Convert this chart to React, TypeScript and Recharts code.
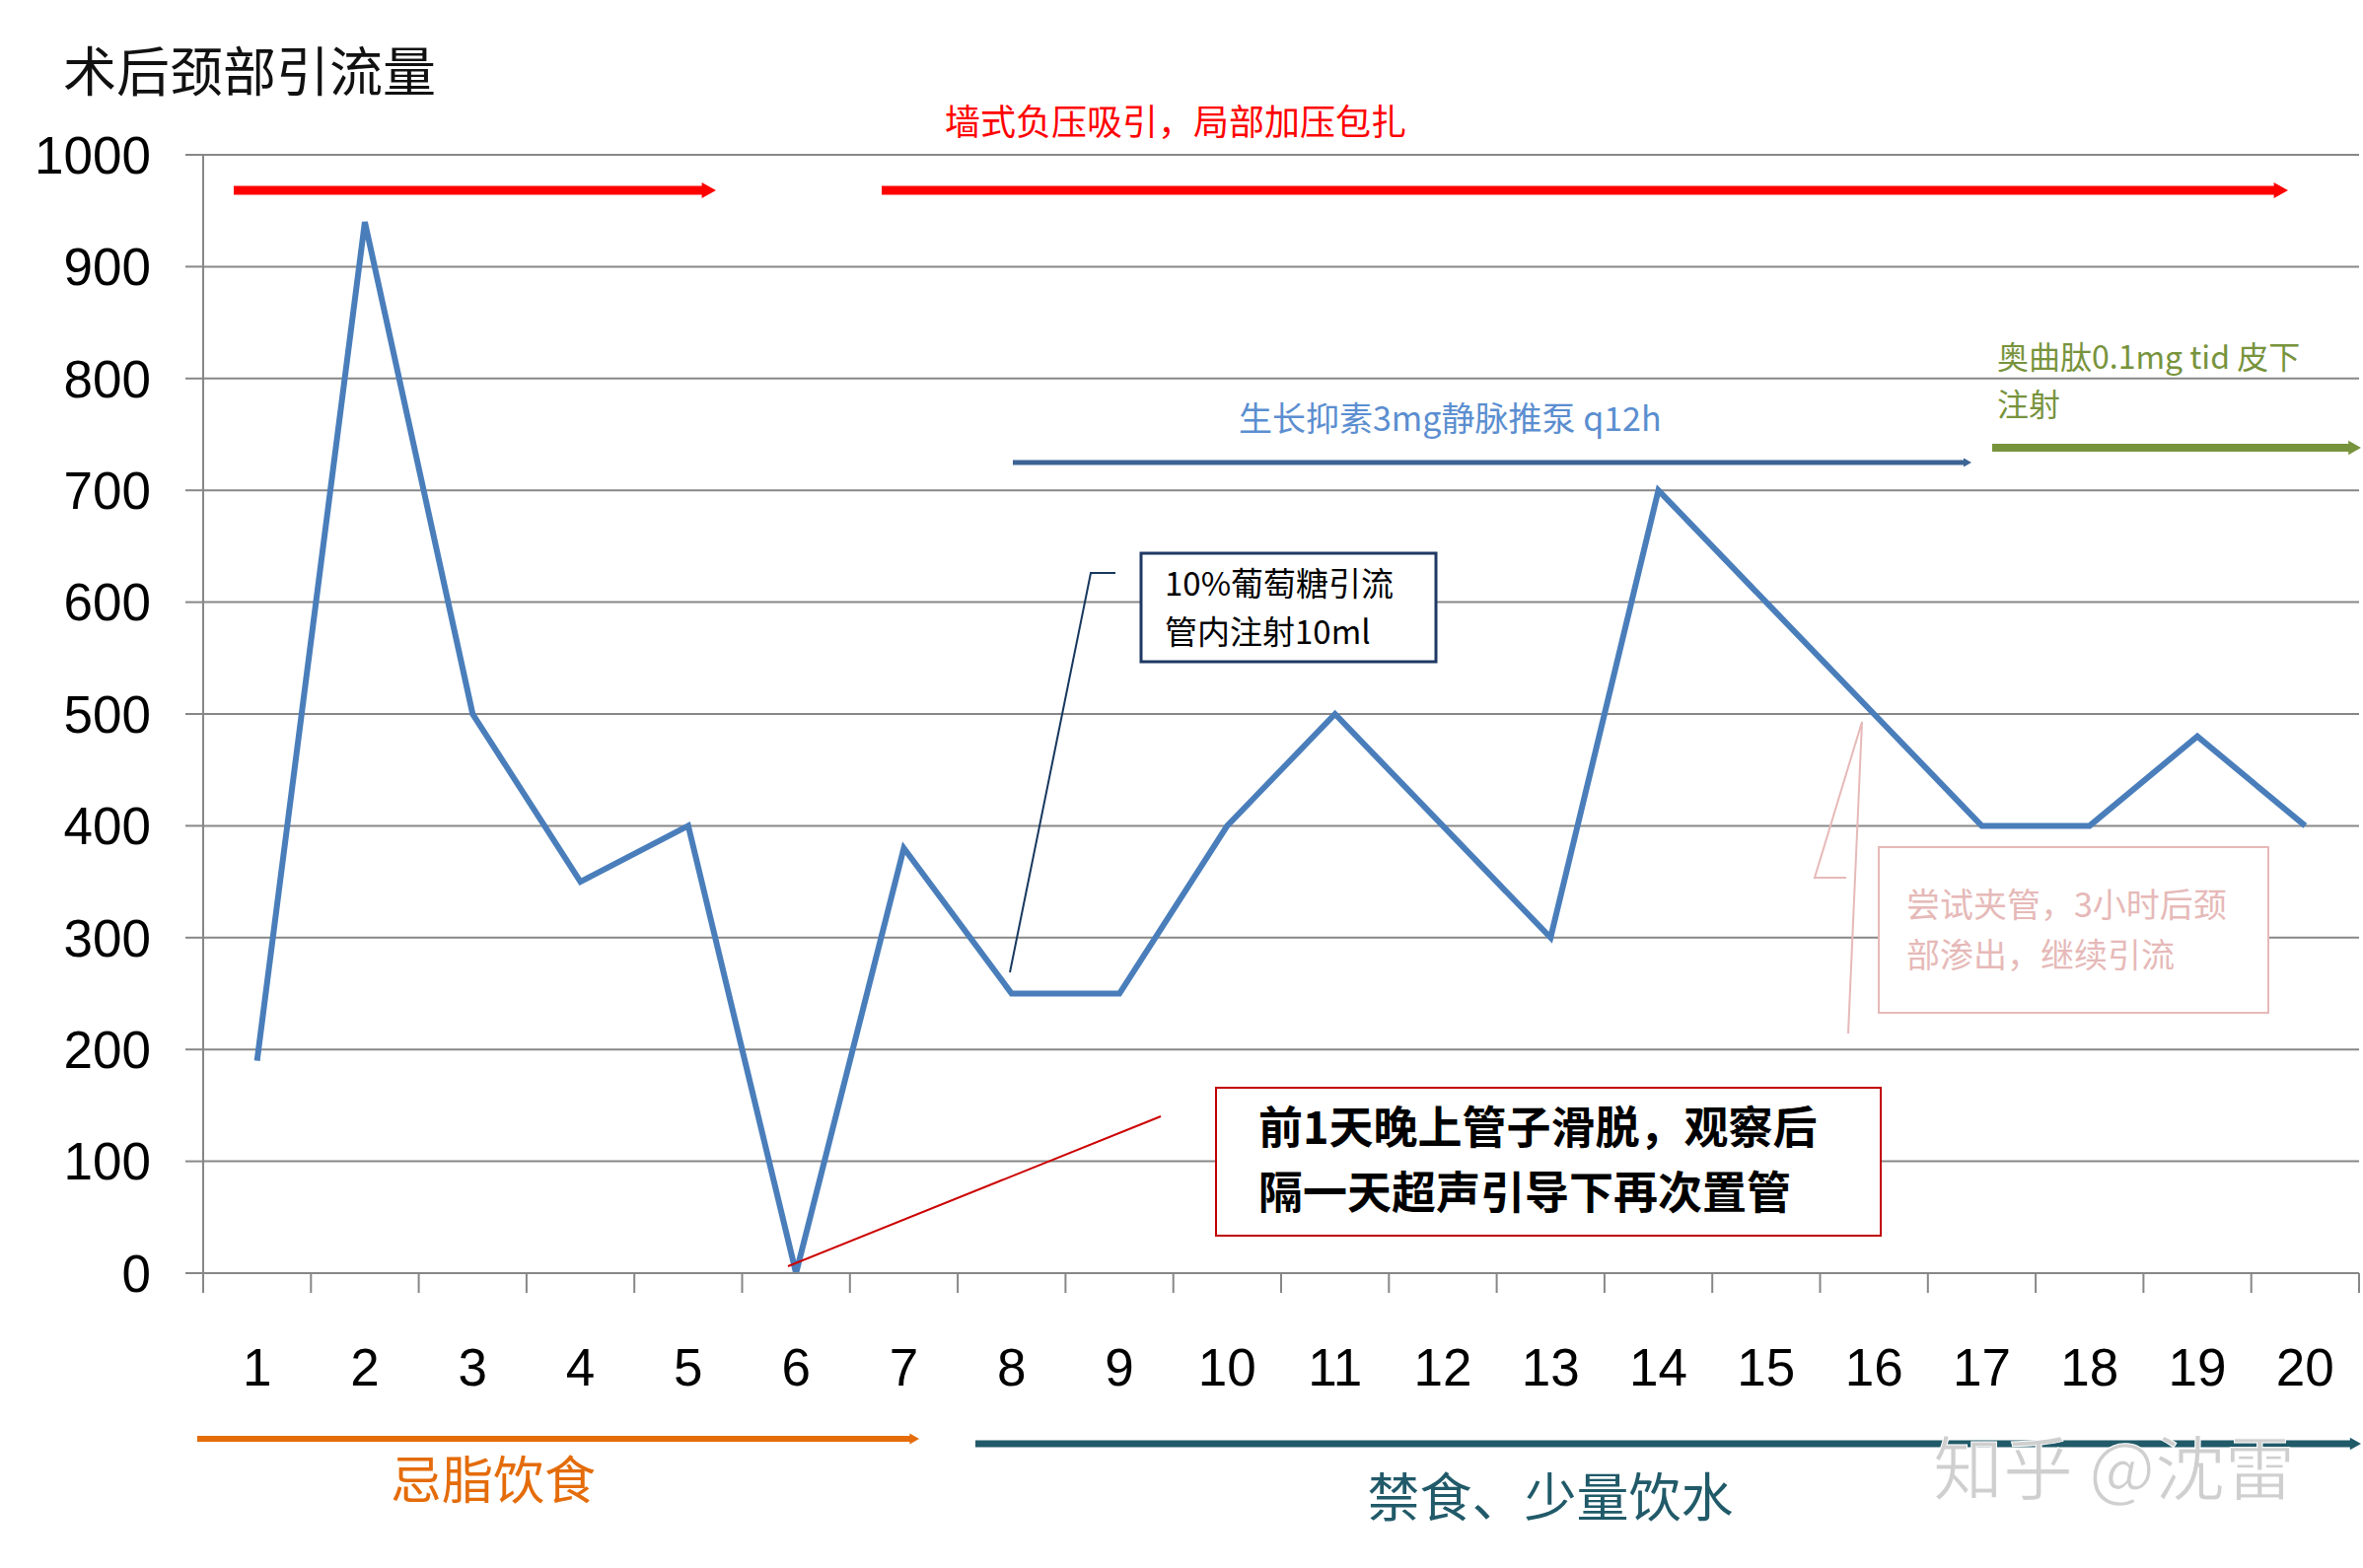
import React from 'react';
import { ComposedChart, Line, XAxis, YAxis, CartesianGrid } from 'recharts';

// 术后第几天
const days = ['1', '2', '3', '4', '5', '6', '7', '8', '9', '10', '11', '12', '13', '14', '15', '16', '17', '18', '19', '20'];
// 颈部引流量 (ml)
const volumes = [190, 940, 500, 350, 400, 0, 380, 250, 250, 400, 500, 400, 300, 700, 600, 500, 400, 400, 480, 400];
const yTicks = [0, 100, 200, 300, 400, 500, 600, 700, 800, 900, 1000];

const chartData = days.map((d, i) => ({ day: d, volume: volumes[i] }));

const W = 2396;
const H = 1590;
const PLOT_LEFT = 206;
const PLOT_RIGHT = 2392;
const PLOT_TOP = 157;
const PLOT_BOTTOM = 1291;
const BAND = (PLOT_RIGHT - PLOT_LEFT) / days.length;

const GRID = '#878787';
const NUM_FONT = '"Liberation Sans", Arial, sans-serif';
const CJK_FONT = '"Noto Sans CJK SC", "Noto Sans", sans-serif';

function XTick(props: any) {
  const { x, payload, index } = props;
  const left = x - BAND / 2;
  return (
    <g>
      <line x1={left} y1={PLOT_BOTTOM} x2={left} y2={PLOT_BOTTOM + 20} stroke={GRID} strokeWidth={2} />
      {index === days.length - 1 && (
        <line x1={x + BAND / 2} y1={PLOT_BOTTOM} x2={x + BAND / 2} y2={PLOT_BOTTOM + 20} stroke={GRID} strokeWidth={2} />
      )}
      <text x={x} y={PLOT_BOTTOM + 114} textAnchor="middle" fontSize={53} fontFamily={NUM_FONT} fill="#000">
        {payload.value}
      </text>
    </g>
  );
}

function Arrow({ x1, x2, y, w, color }: { x1: number; x2: number; y: number; w: number; color: string }) {
  const head = w * 1.6;
  return (
    <g>
      <line x1={x1} y1={y} x2={x2 - head * 0.6} y2={y} stroke={color} strokeWidth={w} />
      <polygon points={`${x2 - head},${y - w * 0.9} ${x2},${y} ${x2 - head},${y + w * 0.9}`} fill={color} />
    </g>
  );
}

function Annotations() {
  return (
    <svg width={W} height={H} style={{ position: 'absolute', left: 0, top: 0, pointerEvents: 'none' }}>
      <text x={64} y={93} fontSize={54} fontFamily={CJK_FONT} fill="#111">术后颈部引流量</text>

      {/* 负压吸引 */}
      <text x={958} y={137} fontSize={36} fontFamily={CJK_FONT} fill="#ff0000">墙式负压吸引，局部加压包扎</text>
      <Arrow x1={237} x2={726} y={193} w={9} color="#ff0000" />
      <Arrow x1={894} x2={2320} y={193} w={9} color="#ff0000" />

      {/* 生长抑素 */}
      <text x={1256} y={437} fontSize={34} fontFamily={CJK_FONT} fill="#5b8ed0">生长抑素3mg静脉推泵 q12h</text>
      <Arrow x1={1027} x2={1999} y={469} w={5} color="#3c6494" />

      {/* 奥曲肽 */}
      <text x={2025} y={374} fontSize={32} fontFamily={CJK_FONT} fill="#77933c">奥曲肽0.1mg tid 皮下</text>
      <text x={2025} y={422} fontSize={32} fontFamily={CJK_FONT} fill="#77933c">注射</text>
      <Arrow x1={2020} x2={2394} y={454} w={8} color="#77933c" />

      {/* 葡萄糖 callout */}
      <polyline points="1131,581 1106,581 1024,986" fill="none" stroke="#17375e" strokeWidth={2} />
      <rect x={1157} y={561} width={299} height={110} fill="#fff" stroke="#1f3864" strokeWidth={3} />
      <text x={1181} y={604} fontSize={33} fontFamily={CJK_FONT} fill="#000">10%葡萄糖引流</text>
      <text x={1181} y={653} fontSize={33} fontFamily={CJK_FONT} fill="#000">管内注射10ml</text>

      {/* 管子滑脱 callout */}
      <line x1={799} y1={1284} x2={1177} y2={1132} stroke="#cc0000" strokeWidth={2} />
      <rect x={1233} y={1103} width={674} height={150} fill="#fff" stroke="#c00000" strokeWidth={2} />
      <text x={1276} y={1160} fontSize={45} fontWeight="bold" fontFamily={CJK_FONT} fill="#000">前1天晚上管子滑脱，观察后</text>
      <text x={1276} y={1226} fontSize={45} fontWeight="bold" fontFamily={CJK_FONT} fill="#000">隔一天超声引导下再次置管</text>

      {/* 夹管 callout */}
      <polyline points="1872,890 1840,890 1888,732 1874,1048" fill="none" stroke="#e6b9b8" strokeWidth={2} />
      <rect x={1905} y={859} width={395} height={168} fill="#fff" stroke="#e6b9b8" strokeWidth={2} />
      <text x={1933} y={930} fontSize={34} fontFamily={CJK_FONT} fill="#e6b9b8">尝试夹管，3小时后颈</text>
      <text x={1933} y={981} fontSize={34} fontFamily={CJK_FONT} fill="#e6b9b8">部渗出，继续引流</text>

      {/* 饮食 */}
      <Arrow x1={200} x2={932} y={1459} w={6} color="#e46c0a" />
      <text x={500} y={1520} textAnchor="middle" fontSize={52} fontFamily={CJK_FONT} fill="#e46c0a">忌脂饮食</text>
      <Arrow x1={989} x2={2394} y={1464} w={7} color="#215a69" />
      <text x={1572} y={1538} textAnchor="middle" fontSize={53} fontFamily={CJK_FONT} fill="#215a69">禁食、少量饮水</text>

      <text x={1960} y={1515} fontSize={71} fontFamily={CJK_FONT} fill="#cfcfcf" stroke="#ffffff" strokeWidth={1}>知乎 @沈雷</text>
    </svg>
  );
}

export default function App() {
  return (
    <div style={{ position: 'absolute', left: 0, top: 0, width: W, height: H, background: '#fff' }}>
      <ComposedChart
        width={W}
        height={H}
        data={chartData}
        margin={{ top: PLOT_TOP, right: W - PLOT_RIGHT, bottom: 0, left: 0 }}
      >
        <CartesianGrid vertical={false} stroke={GRID} strokeWidth={2} />
        <XAxis
          dataKey="day"
          scale="band"
          axisLine={{ stroke: GRID, strokeWidth: 2 }}
          tickLine={false}
          tickSize={0}
          tickMargin={0}
          tick={<XTick />}
          interval={0}
          height={H - PLOT_BOTTOM}
        />
        <YAxis
          width={PLOT_LEFT}
          domain={[0, 1000]}
          ticks={yTicks}
          interval={0}
          axisLine={{ stroke: GRID, strokeWidth: 2 }}
          tickLine={{ stroke: GRID, strokeWidth: 2 }}
          tickSize={18}
          tickMargin={35}
          tick={{ fontSize: 53, fontFamily: NUM_FONT, fill: '#000' }}
        />
        <Line
          type="linear"
          dataKey="volume"
          stroke="#4a7ebb"
          strokeWidth={6}
          dot={false}
          isAnimationActive={false}
        />
      </ComposedChart>
      <Annotations />
    </div>
  );
}
